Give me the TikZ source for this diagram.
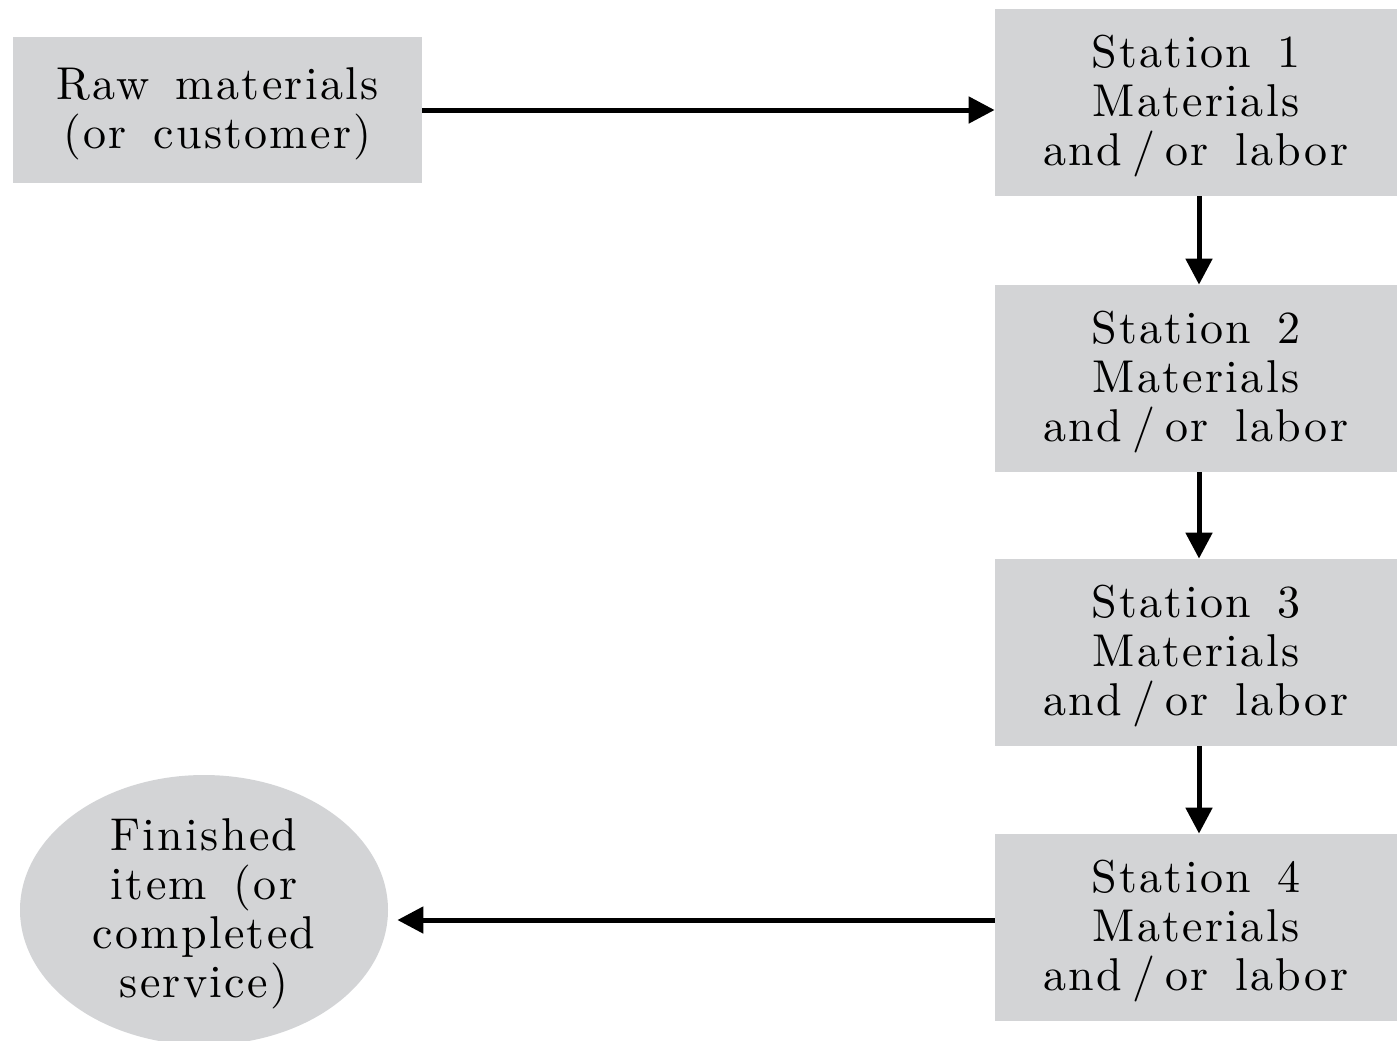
\documentclass[tikz,border=0pt]{standalone}
\usepackage{fontspec}
\setmainfont{lmroman10-regular}[Extension=.otf,LetterSpace=5,WordSpace=1.5]
\usetikzlibrary{arrows.meta,shapes.geometric}
\definecolor{boxgray}{RGB}{211,212,214}
% extra headroom above the first line of a label
\newcommand{\lead}{\rule{0pt}{20pt}}
% spaced slash
\newcommand{\spslash}{\hspace*{0.22em}/\hspace*{0.22em}}
\begin{document}
\begin{tikzpicture}[x=0.5pt,y=-0.5pt,
  every node/.style={font=\fontsize{23}{24.5}\selectfont},
  stepbox/.style={fill=boxgray,draw=none,align=center,inner sep=0pt,
    minimum width=201pt,minimum height=93.5pt},
  rawbox/.style={fill=boxgray,draw=none,align=center,inner sep=0pt,
    minimum width=204.5pt,minimum height=73pt},
  endbox/.style={ellipse,fill=boxgray,draw=none,align=center,inner sep=-5pt,
    minimum width=184pt,minimum height=135pt},
  arr/.style={line width=2.5pt,-{Triangle[length=13pt,width=13pt]}}]
  \useasboundingbox (0,0) rectangle (1397,1040);

  % process boxes
  \node[rawbox] (raw) at (217.5,110) {\lead Raw materials\\(or customer)};
  \node[stepbox] (st1) at (1196,102.5) {\lead Station 1\\Materials\\and\spslash or labor};
  \node[stepbox] (st2) at (1196,378.5) {\lead Station 2\\Materials\\and\spslash or labor};
  \node[stepbox] (st3) at (1196,652.5) {\lead Station 3\\Materials\\and\spslash or labor};
  \node[stepbox] (st4) at (1196,927.5) {\lead Station 4\\Materials\\and\spslash or labor};
  \node[endbox] (fin) at (204,910) {\lead Finished\\item (or\\completed\\service)};

  % flow
  \draw[arr] (raw.east) -- (raw.east -| st1.west);
  \draw[arr] ([xshift=1.5pt]st1.south) -- ([xshift=1.5pt]st2.north);
  \draw[arr] ([xshift=1.5pt]st2.south) -- ([xshift=1.5pt]st3.north);
  \draw[arr] ([xshift=1.5pt]st3.south) -- ([xshift=1.5pt]st4.north);
  \draw[arr] ([yshift=3.75pt]st4.west) -- ([xshift=4.5pt,yshift=-5pt]fin.east);
\end{tikzpicture}
\end{document}
